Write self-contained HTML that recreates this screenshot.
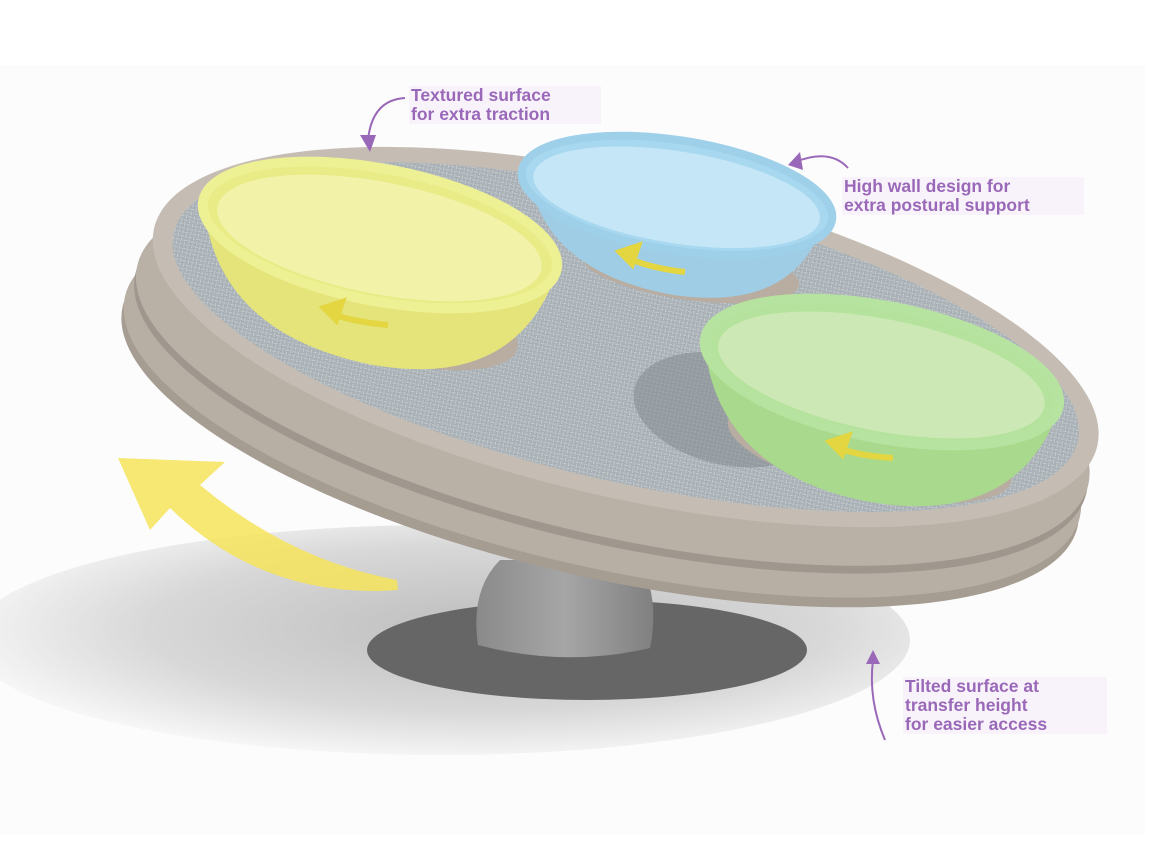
<!DOCTYPE html>
<html><head><meta charset="utf-8"><style>
html,body{margin:0;padding:0;background:#fff;}
.l{position:absolute;font-family:"Liberation Sans",sans-serif;font-weight:bold;color:#9a68b8;font-size:17.5px;line-height:19px;background:#f8f3fa;padding:0 2px;}
</style></head><body>
<div style="position:relative;width:1175px;height:852px;overflow:hidden;">
<svg width="1175" height="852" viewBox="0 0 1175 852" style="position:absolute;left:0;top:0">
<defs>
<radialGradient id="sh" cx="0.55" cy="0.45" r="0.6">
<stop offset="0" stop-color="#bdbdbd"/><stop offset="0.6" stop-color="#d8d8d8"/><stop offset="1" stop-color="#fbfbfb"/>
</radialGradient>
<linearGradient id="dome" x1="0" x2="1"><stop offset="0" stop-color="#8a8a8a"/><stop offset="0.5" stop-color="#a6a6a6"/><stop offset="1" stop-color="#808080"/></linearGradient>
<pattern id="tx" width="8" height="8" patternUnits="userSpaceOnUse"><rect width="8" height="8" fill="#a9b1b6"/><path d="M0 2h4M4 6h4M2 4v4M6 0v4" stroke="#c4cbcf" stroke-width="1"/></pattern>
</defs>
<rect x="0" y="65" width="1145" height="770" fill="#fcfcfc"/>
<ellipse cx="440" cy="640" rx="470" ry="115" fill="url(#sh)"/>
<!-- base -->
<ellipse cx="587" cy="650" rx="220" ry="50" fill="#666"/>
<path d="M478 645 Q470 590 500 560 L640 560 Q660 600 650 648 Q565 668 478 645Z" fill="url(#dome)"/>
<!-- disc layers -->
<g transform="rotate(13 625 340)">
<ellipse cx="618" cy="420" rx="490" ry="160" fill="#a59c92"/>
<ellipse cx="618" cy="410" rx="490" ry="160" fill="#b7aea4"/>
<ellipse cx="621" cy="385" rx="488" ry="160" fill="#9f978d"/>
<ellipse cx="621" cy="377" rx="488" ry="160" fill="#b9b0a6"/>
<ellipse cx="625" cy="337" rx="484" ry="160" fill="#c5bdb3"/>
<ellipse cx="625" cy="337" rx="464" ry="144" fill="url(#tx)"/>
<ellipse cx="740" cy="385" rx="95" ry="55" fill="#7e868a" opacity="0.5"/>
</g>
<!-- plates -->
<ellipse cx="410" cy="325" rx="110" ry="40" fill="#b8ada0" transform="rotate(12 410 325)"/>
<ellipse cx="870" cy="450" rx="145" ry="45" fill="#b8ada0" transform="rotate(12 870 450)"/>
<ellipse cx="690" cy="270" rx="110" ry="30" fill="#b8ada0" transform="rotate(8 690 270)"/>
<!-- blue bowl -->
<g transform="rotate(9 675 195)">
<path d="M528 200 Q560 292 690 294 Q810 292 826 200Z" fill="#9fcde6"/>
<ellipse cx="677" cy="195" rx="157" ry="55" fill="#a7d8f0" stroke="#9fd0ea" stroke-width="8"/>
<ellipse cx="677" cy="197" rx="145" ry="46" fill="#c4e6f6"/>
</g>
<path d="M685 272 Q650 268 628 258 M620 252 l18 -6 -6 18z" stroke="#e3d640" stroke-width="6" fill="#e3d640"/>
<!-- yellow bowl -->
<g transform="rotate(11 380 235)">
<path d="M202 242 Q240 362 395 364 Q540 362 560 242Z" fill="#e4e47a"/>
<ellipse cx="380" cy="235" rx="180" ry="66" fill="#e8eb86" stroke="#eef094" stroke-width="10"/>
<ellipse cx="380" cy="238" rx="165" ry="56" fill="#f2f2a8"/>
</g>
<path d="M388 325 Q355 322 332 314 M324 308 l18 -6 -6 18z" stroke="#e3d640" stroke-width="6" fill="#e3d640"/>
<!-- green bowl -->
<g transform="rotate(11 882 372)">
<path d="M703 380 Q740 500 890 502 Q1040 500 1062 380Z" fill="#a9d98c"/>
<ellipse cx="882" cy="372" rx="180" ry="66" fill="#b5e29c" stroke="#b7e3a0" stroke-width="10"/>
<ellipse cx="882" cy="375" rx="166" ry="56" fill="#cce9b5"/>
</g>
<path d="M893 458 Q860 456 838 448 M830 442 l18 -6 -6 18z" stroke="#e3d640" stroke-width="6" fill="#e3d640"/>
<!-- big yellow arrow -->
<path d="M397 580 Q290 560 200 485 L225 462 L118 458 L150 530 L170 508 Q265 600 398 590Z" fill="#f6e35a" opacity="0.85"/>
<!-- purple annotation arrows -->
<g stroke="#9a68b8" stroke-width="2" fill="none">
<path d="M405 98 Q372 100 368 140"/>
<path d="M848 168 Q830 148 795 162"/>
<path d="M885 740 Q868 700 873 660"/>
</g>
<g fill="#9a68b8">
<path d="M360 135 L376 135 L370 152Z"/>
<path d="M788 165 L800 152 L803 170Z"/>
<path d="M866 664 L880 664 L873 650Z"/>
</g>
</svg>
<div class="l" style="left:409px;top:86px;width:188px;">Textured surface<br>for extra traction</div>
<div class="l" style="left:842px;top:177px;width:238px;">High wall design for<br>extra postural support</div>
<div class="l" style="left:903px;top:677px;width:200px;">Tilted surface at<br>transfer height<br>for easier access</div>
</div>
</body></html>
